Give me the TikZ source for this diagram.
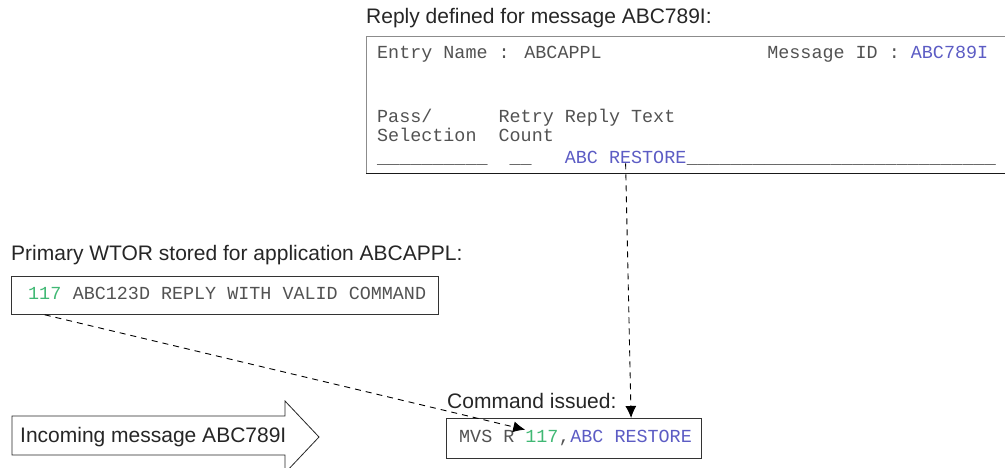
\documentclass[tikz,border=0pt]{standalone}
\usepackage{fontspec}
\setmainfont{Liberation Sans}
\newfontfamily\termfont{Liberation Mono}
\usepackage{xcolor}
\usetikzlibrary{arrows.meta}

\definecolor{idgreen}{RGB}{64,184,116}
\definecolor{idblue}{RGB}{92,92,196}
\definecolor{termgray}{RGB}{82,82,82}

\begin{document}
\begin{tikzpicture}[x=1pt, y=-1pt, every node/.style={inner sep=0pt},
  caption/.style={anchor=west, font=\fontsize{21}{24}\selectfont, text=black!85},
  term/.style={anchor=base west, font=\termfont\fontsize{18.4}{20}\selectfont, text=termgray},
  panel/.style={draw=black!80, line width=0.8pt, anchor=north west},
  link/.style={dash pattern=on 6pt off 5pt, line width=0.9pt, -{Latex[length=12pt,width=11pt]}}]
  \useasboundingbox (0,0) rectangle (1005,467);

  % reply definition panel
  \node[caption] (replycap) at (366,18) {Reply defined for message ABC789I:};
  \node[panel, draw=black!45, minimum width=644pt, minimum height=137pt] (replybox) at (366,36) {};
  \draw[black!90, line width=1pt] (replybox.south west) -- (replybox.south east);
  \node[term] (entryrow) at (377,58) {Entry Name : ABCAPPL~~~~~~~~~~~~~~~Message ID : \textcolor{idblue}{ABC789I}};
  \node[term] (passrow) at (377,122) {Pass/~~~~~~Retry Reply Text};
  \node[term] (selrow) at (377,141) {Selection~~Count};
  \node[term] (blankrow) at (377,163) {\_\_\_\_\_\_\_\_\_\_~~\_\_};
  \node[term, text=idblue] (replytext) at (564.7,163) {ABC RESTORE};
  \node[term] (fillrow) at (replytext.base east) {\_\_\_\_\_\_\_\_\_\_\_\_\_\_\_\_\_\_\_\_\_\_\_\_\_\_\_\_};

  % stored WTOR
  \node[caption] (wtorcap) at (11,255) {Primary WTOR stored for application ABCAPPL:};
  \node[panel, minimum width=427pt, minimum height=38pt] (wtorbox) at (11,276) {};
  \node[term, text=idgreen] (wtorid) at (28,299) {117};
  \node[term] (wtortext) at (wtorid.base east) {~ABC123D REPLY WITH VALID COMMAND};

  % incoming message
  \draw[black!85, line width=0.8pt] (12,416) -- (285,416) -- (285,401) -- (319,437) -- (285,473) -- (285,455) -- (12,455) -- cycle;
  \node[caption] (incoming) at (20,437) {Incoming message ABC789I};

  % resulting command
  \node[caption] (cmdcap) at (447,401) {Command issued:};
  \node[panel, minimum width=255pt, minimum height=40pt] (cmdbox) at (446,418) {};
  \node[term] (cmdhead) at (459,442) {MVS R};
  \node[term, text=idgreen] (cmdid) at (525.2,442) {117};
  \node[term] (cmdcomma) at (cmdid.base east) {,};
  \node[term, text=idblue] (cmdtext) at (cmdcomma.base east) {ABC RESTORE};

  \draw[link] (wtorid.south |- wtorbox.south) -- (cmdid.north west);
  \draw[link] (replytext.south) -- (cmdtext.north |- cmdbox.north);
\end{tikzpicture}
\end{document}
